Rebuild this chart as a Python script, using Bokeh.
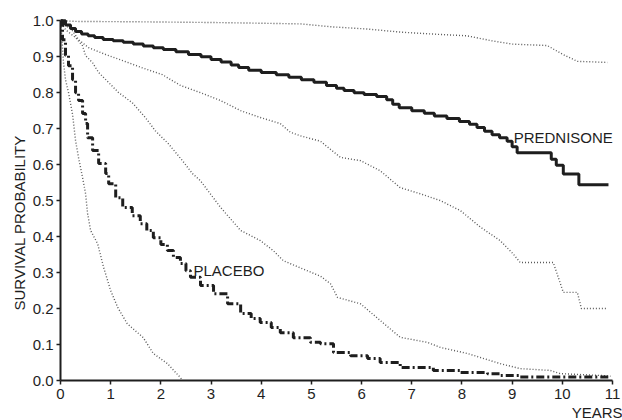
from bokeh.plotting import figure
from bokeh.models import Range1d, FixedTicker, Label, Title
from bokeh.embed import file_html
from bokeh.resources import INLINE

# ---- data (years, survival probability) ----
PRED_T = [0, 0.1, 0.2, 0.3, 0.42, 0.55, 0.68, 0.85, 1.05, 1.25, 1.45, 1.65, 1.85, 2.05, 2.3, 2.55, 2.8, 3.0,
          3.2, 3.4, 3.55, 3.75, 4.0, 4.3, 4.55, 4.8, 5.05, 5.3, 5.5, 5.65, 5.85, 6.05, 6.3, 6.5, 6.62, 6.75,
          7.0, 7.25, 7.45, 7.7, 7.95, 8.15, 8.3, 8.45, 8.6, 8.75, 8.9, 9.0, 9.1, 9.78, 9.88, 10.02, 10.33, 10.92]
PRED_S = [1.0, 0.988, 0.978, 0.97, 0.963, 0.958, 0.953, 0.948, 0.944, 0.94, 0.935, 0.93, 0.925, 0.92, 0.914,
          0.906, 0.9, 0.892, 0.885, 0.877, 0.87, 0.862, 0.856, 0.85, 0.843, 0.836, 0.829, 0.82, 0.812, 0.806,
          0.8, 0.795, 0.789, 0.78, 0.768, 0.758, 0.75, 0.743, 0.735, 0.728, 0.72, 0.712, 0.703, 0.693, 0.683,
          0.675, 0.665, 0.65, 0.633, 0.615, 0.598, 0.574, 0.544, 0.544]

PLAC_T = [0, 0.04, 0.1, 0.16, 0.24, 0.3, 0.36, 0.44, 0.5, 0.54, 0.64, 0.76, 0.9, 0.96, 1.1, 1.24, 1.43, 1.59,
          1.72, 1.85, 2.0, 2.13, 2.25, 2.39, 2.5, 2.59, 2.79, 3.05, 3.33, 3.59, 3.8, 3.98, 4.2, 4.38, 4.64,
          4.98, 5.18, 5.44, 5.78, 6.12, 6.37, 6.77, 7.43, 7.97, 8.51, 8.76, 9.16, 10.96]
PLAC_S = [1.0, 0.947, 0.903, 0.875, 0.836, 0.8, 0.778, 0.742, 0.714, 0.675, 0.639, 0.603, 0.575, 0.547, 0.508,
          0.481, 0.458, 0.436, 0.417, 0.397, 0.378, 0.361, 0.342, 0.325, 0.305, 0.287, 0.264, 0.241, 0.213,
          0.186, 0.172, 0.161, 0.147, 0.133, 0.119, 0.106, 0.102, 0.078, 0.069, 0.061, 0.05, 0.036, 0.028,
          0.022, 0.019, 0.014, 0.01, 0.01]

PRED_UP_T = [0, 0.3, 1.5, 3.0, 4.0, 4.8, 5.4, 6.1, 6.8, 7.4, 8.1, 8.6, 9.0, 9.7, 10.0, 10.3, 10.9]
PRED_UP_S = [1.0, 0.998, 0.997, 0.995, 0.993, 0.991, 0.983, 0.977, 0.968, 0.963, 0.958, 0.944, 0.935, 0.931,
             0.907, 0.887, 0.884]

PRED_LO_T = [0, 0.24, 0.36, 0.56, 0.9, 1.24, 1.63, 2.03, 2.39, 2.79, 3.19, 3.59, 3.98, 4.38, 4.58, 4.78, 5.18,
             5.58, 5.98, 6.37, 6.77, 7.17, 7.57, 7.97, 8.37, 8.76, 9.02, 9.16, 9.82, 10.02, 10.3, 10.38, 10.9]
PRED_LO_S = [1.0, 0.972, 0.947, 0.925, 0.906, 0.889, 0.869, 0.85, 0.82, 0.8, 0.778, 0.75, 0.731, 0.714, 0.69,
             0.68, 0.665, 0.62, 0.611, 0.583, 0.536, 0.519, 0.5, 0.472, 0.426, 0.389, 0.352, 0.328, 0.328,
             0.245, 0.245, 0.2, 0.2]

PLAC_UP_T = [0, 0.1, 0.3, 0.44, 0.5, 0.64, 0.76, 0.96, 1.16, 1.43, 1.69, 1.89, 2.15, 2.43, 2.63, 2.79, 2.99,
             3.19, 3.59, 3.98, 4.24, 4.44, 4.78, 5.18, 5.38, 5.52, 5.98, 6.37, 6.77, 7.31, 7.57, 8.11, 8.76,
             9.16, 9.76, 9.96, 10.76, 10.96]
PLAC_UP_S = [1.0, 0.975, 0.953, 0.93, 0.903, 0.883, 0.856, 0.828, 0.8, 0.772, 0.731, 0.694, 0.658, 0.611,
             0.575, 0.555, 0.518, 0.481, 0.417, 0.389, 0.361, 0.333, 0.313, 0.29, 0.269, 0.231, 0.213, 0.167,
             0.12, 0.106, 0.092, 0.075, 0.047, 0.033, 0.028, 0.019, 0.014, 0.012]

PLAC_LO_T = [0, 0.02, 0.06, 0.1, 0.16, 0.24, 0.3, 0.36, 0.44, 0.5, 0.54, 0.6, 0.74, 0.86, 1.0, 1.14, 1.33,
             1.65, 1.85, 2.13, 2.39, 2.43]
PLAC_LO_S = [1.0, 0.97, 0.883, 0.836, 0.8, 0.74, 0.667, 0.619, 0.564, 0.519, 0.464, 0.417, 0.38, 0.314, 0.25,
             0.203, 0.158, 0.119, 0.075, 0.047, 0.008, 0.0]

X_TICKS = [0, 1, 2, 3, 4, 5, 6, 7, 8, 9, 10, 11]
Y_TICKS = [0.0, 0.1, 0.2, 0.3, 0.4, 0.5, 0.6, 0.7, 0.8, 0.9, 1.0]
Y_LABELS = ["0.0", "0.1", "0.2", "0.3", "0.4", "0.5", "0.6", "0.7", "0.8", "0.9", "1.0"]

FONT = "Liberation Sans"
INK = "#1e1e1e"
DOT = "#5a5a5a"

p = figure(width=622, height=420, output_backend="svg", toolbar_location=None,
           x_range=Range1d(0, 11.08), y_range=Range1d(0, 1.02),
           min_border_left=60, min_border_right=6, min_border_top=13, min_border_bottom=40)
p.outline_line_color = None
p.grid.visible = False
p.background_fill_color = "white"
p.border_fill_color = "white"

for ax in (p.xaxis[0], p.yaxis[0]):
    ax.axis_line_width = 2
    ax.axis_line_color = INK
    ax.major_tick_line_color = INK
    ax.major_tick_line_width = 1.5
    ax.major_tick_out = 4
    ax.major_tick_in = 0
    ax.minor_tick_line_color = None
    ax.major_label_text_font = FONT
    ax.major_label_text_font_size = "15px"
    ax.major_label_text_color = INK

p.xaxis.ticker = FixedTicker(ticks=X_TICKS)
p.xaxis.bounds = (0, 11)
p.xaxis.major_label_standoff = 4
p.yaxis.ticker = FixedTicker(ticks=Y_TICKS)
p.yaxis.bounds = (0, 1)
p.yaxis.major_label_standoff = 3
p.yaxis.major_label_overrides = {t: l for t, l in zip(Y_TICKS, Y_LABELS)}

# confidence bands (dotted)
for xs, ys in ((PRED_UP_T, PRED_UP_S), (PRED_LO_T, PRED_LO_S),
               (PLAC_UP_T, PLAC_UP_S), (PLAC_LO_T, PLAC_LO_S)):
    p.line(xs, ys, line_color=DOT, line_width=1.4, line_dash="1 2")

# survival curves
p.step(PLAC_T, PLAC_S, mode="after", line_color=INK, line_width=3, line_dash="8 3 2 3")
p.step(PRED_T, PRED_S, mode="after", line_color=INK, line_width=3)

p.add_layout(Label(x=9.03, y=0.674, text="PREDNISONE", text_font=FONT, text_font_size="15px",
                   text_color=INK, text_align="left", text_baseline="middle"))
p.add_layout(Label(x=2.65, y=0.306, text="PLACEBO", text_font=FONT, text_font_size="15px",
                   text_color=INK, text_align="left", text_baseline="middle"))

p.add_layout(Title(text="YEARS", align="right", offset=-6, standoff=0, text_font=FONT,
                   text_font_size="15px", text_font_style="normal", text_color=INK), "below")
p.add_layout(Title(text="SURVIVAL PROBABILITY", align="left", offset=70, standoff=4, text_font=FONT,
                   text_font_size="15px", text_font_style="normal", text_color=INK), "left")

open("out.html", "w").write(file_html(p, INLINE))
